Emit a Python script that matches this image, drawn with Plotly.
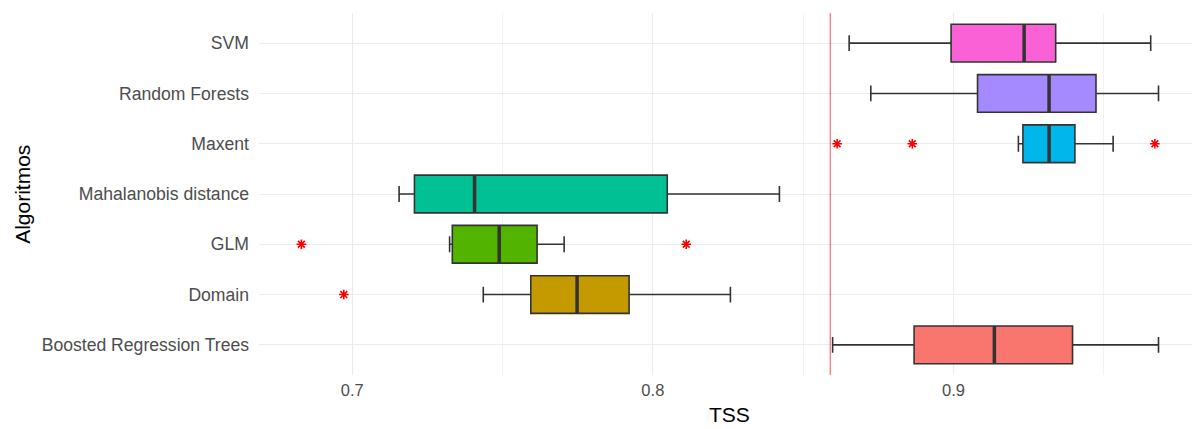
import plotly.graph_objects as go

algorithms = ["Boosted Regression Trees", "Domain", "GLM", "Mahalanobis distance",
              "Maxent", "Random Forests", "SVM"]
colors = ["#F8766D", "#C49A00", "#53B400", "#00C094", "#00B6EB", "#A58AFF", "#FB61D7"]

lower_whisker = [0.8598, 0.7436, 0.7324, 0.7156, 0.9216, 0.8725, 0.8653]
q1 =            [0.8869, 0.7594, 0.7333, 0.7207, 0.9231, 0.9080, 0.8992]
median =        [0.9136, 0.7748, 0.7489, 0.7407, 0.9318, 0.9318, 0.9235]
q3 =            [0.9396, 0.7921, 0.7615, 0.8048, 0.9404, 0.9474, 0.9340]
upper_whisker = [0.9682, 0.8258, 0.7705, 0.8421, 0.9531, 0.9682, 0.9656]

outlier_alg = ["Domain", "GLM", "GLM", "Maxent", "Maxent", "Maxent"]
outlier_tss = [0.6972, 0.6831, 0.8111, 0.8613, 0.8863, 0.9670]

threshold = 0.859
box_width = 0.75

fig = go.Figure()
for i, name in enumerate(algorithms):
    fig.add_trace(go.Box(
        y=[i], q1=[q1[i]], median=[median[i]], q3=[q3[i]],
        lowerfence=[lower_whisker[i]], upperfence=[upper_whisker[i]],
        orientation="h", width=box_width, whiskerwidth=0.42,
        fillcolor=colors[i], line=dict(color="#333333", width=1.6),
        boxpoints=False, showlegend=False, hoverinfo="skip", name=name,
    ))
    fig.add_trace(go.Scatter(
        x=[median[i], median[i]], y=[i - box_width / 2, i + box_width / 2],
        mode="lines", line=dict(color="#333333", width=3.5),
        showlegend=False, hoverinfo="skip",
    ))

fig.add_trace(go.Scatter(
    x=outlier_tss, y=[algorithms.index(a) for a in outlier_alg],
    mode="markers",
    marker=dict(symbol="asterisk-open", color="red", size=8, line=dict(color="red", width=1.6)),
    showlegend=False, hoverinfo="skip",
))

fig.add_shape(type="line", x0=threshold, x1=threshold, y0=0, y1=1,
              xref="x", yref="paper", line=dict(color="red", width=0.7), layer="above")

fig.add_annotation(text="TSS", xref="paper", yref="paper", x=0.5, y=-0.11,
                   xanchor="center", yanchor="middle", showarrow=False,
                   font=dict(size=21, color="black"))
fig.add_annotation(text="Algoritmos", xref="paper", yref="paper", x=-0.252, y=0.5,
                   xanchor="center", yanchor="middle", showarrow=False, textangle=-90,
                   font=dict(size=21, color="black"))

fig.update_layout(
    width=1192, height=421,
    margin=dict(l=251, r=0, t=5, b=54, autoexpand=False),
    plot_bgcolor="white", paper_bgcolor="white",
    font=dict(family="Liberation Sans, Arial, sans-serif", color="#4D4D4D"),
    xaxis=dict(
        range=[0.669, 0.982], tickvals=[0.7, 0.8, 0.9], ticktext=["0.7", "0.8", "0.9"],
        showgrid=True, gridcolor="#EBEBEB", gridwidth=1.4, zeroline=False,
        minor=dict(tickvals=[0.65, 0.75, 0.85, 0.95], showgrid=True, gridcolor="#F2F2F2", gridwidth=0.8),
        tickfont=dict(size=16.5, color="#4D4D4D"), ticks="", ticklen=0,
        ticklabelstandoff=3,
        showline=False, automargin=False,
    ),
    yaxis=dict(
        range=[-0.6, 6.6], tickmode="array", tickvals=list(range(len(algorithms))),
        ticktext=algorithms, showgrid=True, gridcolor="#EBEBEB", gridwidth=1.4,
        zeroline=False, tickfont=dict(size=17.6, color="#4D4D4D"), ticks="",
        ticklabelstandoff=9,
        showline=False, automargin=False,
    ),
)

fig.write_html("out.html")
